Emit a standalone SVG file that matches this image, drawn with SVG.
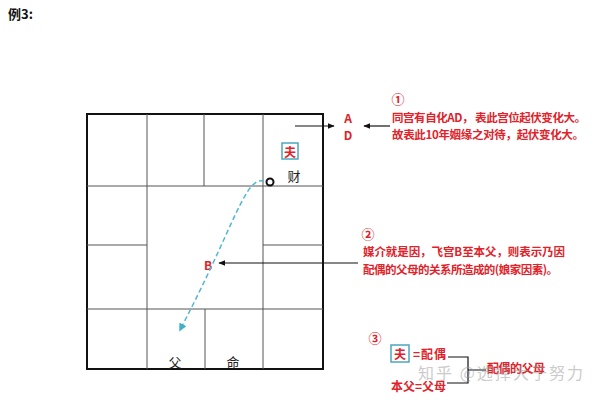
<svg xmlns="http://www.w3.org/2000/svg" width="600" height="400" viewBox="0 0 600 400">
<defs>
<style>
.t{font-family:"Noto Sans CJK SC","Liberation Sans",sans-serif;dominant-baseline:central}
.red{fill:#e0222a;font-weight:bold}
.blk{fill:#222}
.grid{stroke:#555;stroke-width:1;fill:none}
.ln{stroke:#111;stroke-width:1.2;fill:none}
.box{fill:#fff;stroke:#4aa8bf;stroke-width:1.5}
</style>
<marker id="ah" viewBox="0 0 10 10" refX="9" refY="5" markerWidth="7" markerHeight="7" orient="auto" markerUnits="userSpaceOnUse">
<path d="M0,1 L10,5 L0,9 Z" fill="#111"/>
</marker>
<marker id="ahc" viewBox="0 0 10 10" refX="8" refY="5" markerWidth="8" markerHeight="8" orient="auto" markerUnits="userSpaceOnUse">
<path d="M0,0 L10,5 L0,10 Z" fill="#3fb0c8"/>
</marker>
</defs>
<rect width="600" height="400" fill="#fff"/>
<text class="t" x="8" y="13" font-size="13" font-weight="bold" fill="#111">例3:</text>

<g id="chart">
<rect x="87" y="114" width="236" height="255" fill="none" stroke="#111" stroke-width="2"/>
<path class="grid" d="M147,114 V369 M263,114 V369 M204,114 V186 M205,309 V369 M87,186 H323 M87,309 H323 M87,245 H147 M263,245 H323"/>
</g>

<g id="fu-box">
<rect class="box" x="282" y="143" width="16" height="16"/>
<text class="t red" x="290" y="151" font-size="12" text-anchor="middle">夫</text>
</g>
<g id="cai">
<text class="t blk" x="294" y="175" font-size="13" text-anchor="middle">财</text>
<circle cx="270" cy="182" r="3.5" fill="#fff" stroke="#111" stroke-width="2"/>
</g>
<g id="fu-father"><text class="t blk" x="175" y="361" font-size="13" text-anchor="middle">父</text></g>
<g id="ming"><text class="t blk" x="233" y="361" font-size="13" text-anchor="middle">命</text></g>
<g id="B"><text class="t red" x="208" y="264" font-size="12" text-anchor="middle">B</text></g>
<g id="AD">
<text class="t red" x="348" y="117" font-size="12" text-anchor="middle">A</text>
<text class="t red" x="348" y="134" font-size="12" text-anchor="middle">D</text>
</g>

<g id="note1">
<text class="t red" x="398" y="98" font-size="13" text-anchor="middle" font-weight="normal">①</text>
<text class="t red" x="392" y="117" font-size="11.5" textLength="194">同宫有自化AD， 表此宫位起伏变化大。</text>
<text class="t red" x="392" y="134" font-size="11.5" textLength="192">故表此10年姻缘之对待，起伏变化大。</text>
</g>
<g id="note2">
<text class="t red" x="368" y="233" font-size="13" text-anchor="middle" font-weight="normal">②</text>
<text class="t red" x="363" y="251" font-size="11.5" textLength="202">媒介就是因，飞宫B至本父，则表示乃因</text>
<text class="t red" x="363" y="269" font-size="11.5" textLength="195">配偶的父母的关系所造成的(娘家因素)。</text>
</g>
<g id="note3">
<text class="t red" x="375" y="337" font-size="13" text-anchor="middle" font-weight="normal">③</text>
<rect class="box" x="391" y="345" width="18" height="17"/>
<text class="t red" x="400" y="353.5" font-size="12" text-anchor="middle">夫</text>
<text class="t red" x="413" y="353" font-size="12" textLength="33">=配偶</text>
<text class="t red" x="391" y="385" font-size="12" textLength="55">本父=父母</text>
<text class="t red" x="487" y="367" font-size="12" textLength="58">配偶的父母</text>
</g>

<g id="connectors">
<line class="ln" x1="295" y1="126" x2="334" y2="126" marker-end="url(#ah)"/>
<line class="ln" x1="390" y1="126" x2="364" y2="126" marker-end="url(#ah)"/>
<line class="ln" x1="358" y1="263" x2="219" y2="263" marker-end="url(#ah)"/>
<path d="M264,181 C245,176 235,225 180,330" fill="none" stroke="#4fb8d0" stroke-width="1.5" stroke-dasharray="5,3" marker-end="url(#ahc)"/>
<path class="ln" d="M448,357 H468 V383 H447 M468,370 H486"/>
</g>

<text class="t" x="418" y="372" font-size="16" fill="#999" opacity="0.5" textLength="165">知乎 @选择大于努力</text>
</svg>
